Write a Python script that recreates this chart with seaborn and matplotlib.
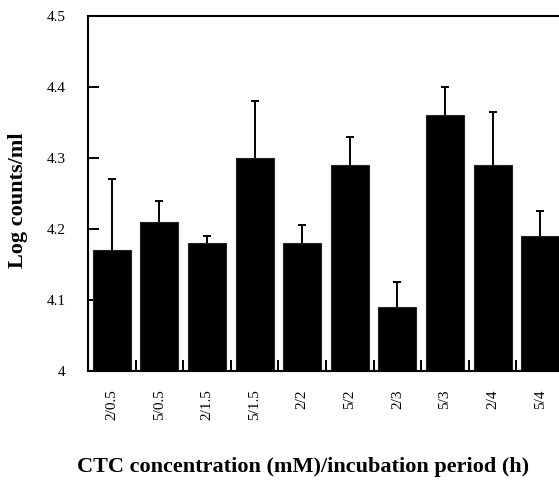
import matplotlib
matplotlib.use("Agg")
import matplotlib.pyplot as plt
import numpy as np
import pandas as pd
import seaborn as sns

# CTC concentration (mM) / incubation period (h)
groups = ["2/0.5", "5/0.5", "2/1.5", "5/1.5", "2/2", "5/2", "2/3", "5/3", "2/4", "5/4"]
log_counts = [4.17, 4.21, 4.18, 4.30, 4.18, 4.29, 4.09, 4.36, 4.29, 4.19]
sd = [0.10, 0.03, 0.01, 0.08, 0.025, 0.04, 0.035, 0.04, 0.075, 0.035]
y_ticks = [4, 4.1, 4.2, 4.3, 4.4, 4.5]
y_tick_labels = ["4", "4.1", "4.2", "4.3", "4.4", "4.5"]

df = pd.DataFrame({"group": groups, "log_counts": log_counts, "sd": sd})

sns.set_style("white")
plt.rcParams["font.family"] = ["Liberation Serif", "DejaVu Serif"]
plt.rcParams["text.color"] = "black"
plt.rcParams["axes.labelcolor"] = "black"
plt.rcParams["xtick.color"] = "black"
plt.rcParams["ytick.color"] = "black"

fig = plt.figure(figsize=(5.59, 4.80), dpi=100)
ax = fig.add_axes([88 / 559, 109 / 480, 476 / 559, 355 / 480])

sns.barplot(data=df, x="group", y="log_counts", color="black", width=0.8,
            edgecolor="#222222", linewidth=0.8, errorbar=None, ax=ax, saturation=1)

# upper error bars only: stem plus a cap at the top
x_pos = np.arange(len(groups))
tops = df["log_counts"] + df["sd"]
ax.vlines(x_pos, df["log_counts"], tops, colors="black", linewidth=1.4, zorder=3)
ax.plot(x_pos, tops, linestyle="none", marker="_", markersize=6,
        markeredgewidth=1.4, color="black", zorder=3)

ax.set_ylim(4, 4.5)
ax.set_xlim(-0.5, len(groups) - 0.5)
ax.set_yticks(y_ticks)
ax.set_yticklabels(y_tick_labels, fontsize=11)
ax.set_xticks(x_pos)
ax.set_xticklabels(groups, rotation=90, fontsize=11)
ax.set_xticks(x_pos[:-1] + 0.5, minor=True)

ax.tick_params(axis="y", direction="in", length=8, width=1.4, pad=16, left=True)
ax.tick_params(axis="x", which="major", length=0, pad=13)
ax.tick_params(axis="x", which="minor", direction="in", length=8, width=1.4, bottom=True)

for side in ["left", "top", "bottom"]:
    ax.spines[side].set_visible(True)
    ax.spines[side].set_linewidth(1.5)
    ax.spines[side].set_color("black")
ax.spines["right"].set_visible(False)

ax.set_xlabel("CTC concentration (mM)/incubation period (h)", fontsize=16, fontweight="bold")
ax.set_ylabel("Log counts/ml", fontsize=16, fontweight="bold")
ax.xaxis.set_label_coords(215 / 476, -96 / 355)
ax.yaxis.set_label_coords(-70 / 476, 171 / 355)
ax.xaxis.label.set_va("center")
ax.yaxis.label.set_va("center")

fig.savefig("out.png", dpi=100)
